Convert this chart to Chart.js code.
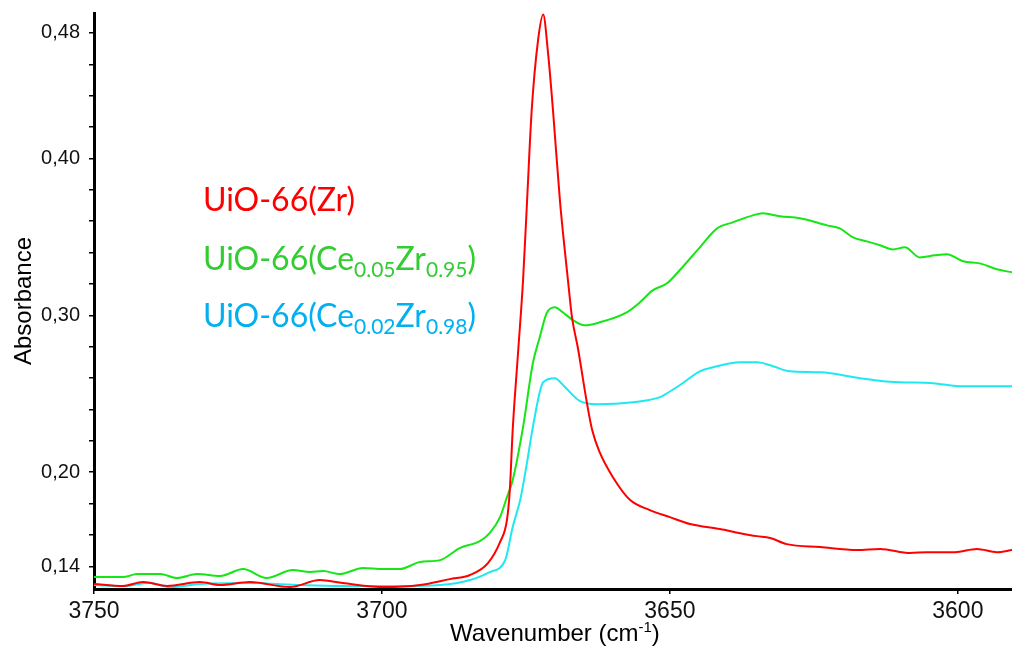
<!DOCTYPE html>
<html>
<head>
<meta charset="utf-8">
<script src="https://cdn.jsdelivr.net/npm/chart.js@4.4.1/dist/chart.umd.min.js"></script>
<style>
    html, body { margin: 0; padding: 0; background: #fff; }
    #wrap { width: 1012px; height: 652px; }
</style>
</head>
<body>
<div id="wrap"><canvas id="chart" width="1012" height="652"></canvas></div>
<script>
// Wavenumber (cm-1) and absorbance
const redWn = [3750.0, 3745.0, 3741.5, 3737.3, 3731.6, 3728.1, 3722.9, 3716.0, 3710.8, 3706.8, 3699.5, 3693.4, 3688.2, 3684.7, 3681.6, 3679.5, 3678.3, 3677.8, 3677.3, 3676.4, 3675.5, 3674.8, 3674.0, 3672.9, 3672.0, 3671.2, 3670.3, 3669.1, 3667.7, 3667.0, 3666.0, 3664.4, 3663.5, 3662.2, 3659.9, 3656.9, 3653.5, 3650.0, 3646.5, 3641.3, 3637.8, 3634.9, 3632.6, 3629.7, 3623.9, 3617.5, 3613.5, 3608.3, 3605.4, 3600.5, 3596.7, 3593.2, 3590.6];
const redAbs = [0.1287, 0.1274, 0.1299, 0.1274, 0.1299, 0.1280, 0.1299, 0.1267, 0.1312, 0.1293, 0.1267, 0.1280, 0.1318, 0.1344, 0.1420, 0.1554, 0.1694, 0.1885, 0.2268, 0.2745, 0.3223, 0.3732, 0.4306, 0.4752, 0.4917, 0.4687, 0.4306, 0.3732, 0.3223, 0.2987, 0.2796, 0.2439, 0.2268, 0.2127, 0.1968, 0.1822, 0.1758, 0.1713, 0.1669, 0.1637, 0.1611, 0.1592, 0.1580, 0.1541, 0.1522, 0.1503, 0.1510, 0.1484, 0.1490, 0.1490, 0.1510, 0.1490, 0.1503];

const greenWn = [3750.0, 3745.0, 3742.5, 3738.5, 3735.6, 3732.1, 3728.1, 3724.1, 3720.0, 3715.5, 3712.5, 3710.2, 3707.3, 3703.3, 3699.8, 3696.9, 3693.4, 3689.9, 3686.5, 3683.0, 3681.3, 3679.5, 3678.3, 3677.3, 3675.5, 3673.8, 3672.6, 3671.4, 3670.0, 3668.6, 3666.8, 3664.8, 3662.2, 3657.5, 3655.2, 3653.0, 3650.5, 3648.3, 3644.8, 3641.8, 3639.1, 3635.6, 3633.9, 3630.9, 3627.4, 3622.7, 3620.5, 3618.2, 3615.8, 3613.5, 3611.3, 3609.2, 3606.6, 3604.0, 3601.9, 3599.1, 3596.2, 3593.2, 3590.6];
const greenAbs = [0.1331, 0.1331, 0.1350, 0.1350, 0.1325, 0.1350, 0.1338, 0.1382, 0.1325, 0.1376, 0.1363, 0.1369, 0.1350, 0.1389, 0.1382, 0.1382, 0.1427, 0.1439, 0.1516, 0.1560, 0.1611, 0.1713, 0.1841, 0.1949, 0.2287, 0.2694, 0.2860, 0.3013, 0.3051, 0.3019, 0.2968, 0.2936, 0.2955, 0.3019, 0.3083, 0.3159, 0.3204, 0.3287, 0.3433, 0.3554, 0.3592, 0.3637, 0.3650, 0.3631, 0.3618, 0.3573, 0.3554, 0.3497, 0.3471, 0.3446, 0.3420, 0.3433, 0.3369, 0.3382, 0.3389, 0.3344, 0.3331, 0.3293, 0.3274];

const cyanWn = [3750.0, 3745.0, 3740.3, 3736.8, 3731.6, 3722.9, 3714.2, 3707.3, 3696.9, 3689.9, 3684.7, 3681.3, 3678.6, 3677.3, 3676.0, 3674.8, 3673.8, 3672.0, 3670.0, 3668.2, 3665.6, 3662.7, 3656.4, 3651.7, 3650.5, 3648.3, 3644.8, 3642.5, 3637.8, 3634.9, 3632.1, 3629.2, 3623.9, 3617.0, 3613.0, 3610.1, 3604.3, 3599.7, 3590.6];
const cyanAbs = [0.1280, 0.1274, 0.1293, 0.1267, 0.1287, 0.1293, 0.1280, 0.1274, 0.1274, 0.1280, 0.1312, 0.1363, 0.1439, 0.1650, 0.1822, 0.2064, 0.2287, 0.2573, 0.2599, 0.2541, 0.2452, 0.2433, 0.2446, 0.2478, 0.2503, 0.2554, 0.2643, 0.2669, 0.2700, 0.2700, 0.2675, 0.2643, 0.2637, 0.2599, 0.2580, 0.2573, 0.2567, 0.2548, 0.2548];

const xTicks = [3750, 3700, 3650, 3600];
const yTicks = [14, 16, 18, 20, 22, 24, 26, 28, 30, 32, 34, 36, 38, 40, 42, 44, 46, 48]; // hundredths
const yLabelled = [14, 20, 30, 40, 48];

const axisFont = 'Liberation Sans, Arial, sans-serif';
const legendFont = 'Lato, Noto Sans, sans-serif';

function toPoints(wn, abs) {
    return wn.map((w, i) => ({ x: w, y: abs[i] }));
}

// draw a line of text made of runs, some of them subscript / superscript
function drawRuns(ctx, x, y, runs, size, color, family) {
    ctx.fillStyle = color;
    ctx.textBaseline = 'alphabetic';
    ctx.textAlign = 'left';
    runs.forEach(r => {
        let s = size, dy = 0;
        if (r.sub) { s = Math.round(size * 0.66); dy = size * 0.22; }
        if (r.sup) { s = Math.round(size * 0.62); dy = -size * 0.36; }
        ctx.font = s + 'px ' + family;
        ctx.fillText(r.t, x, y + dy);
        x += ctx.measureText(r.t).width;
    });
}

const textPlugin = {
    id: 'textPlugin',
    afterDraw(chart) {
        const ctx = chart.ctx;
        ctx.save();
        drawRuns(ctx, 203, 211, [{ t: 'UiO-66(Zr)' }], 32, '#ff0000', legendFont);
        drawRuns(ctx, 203, 270, [{ t: 'UiO-66(Ce' }, { t: '0.05', sub: true }, { t: 'Zr' }, { t: '0.95', sub: true }, { t: ')' }], 32, '#33cc33', legendFont);
        drawRuns(ctx, 203, 327, [{ t: 'UiO-66(Ce' }, { t: '0.02', sub: true }, { t: 'Zr' }, { t: '0.98', sub: true }, { t: ')' }], 32, '#00b0f0', legendFont);
        drawRuns(ctx, 450, 641, [{ t: 'Wavenumber (cm' }, { t: '-1', sup: true }, { t: ')' }], 24, '#000', axisFont);
        ctx.restore();
    }
};

const ctx = document.getElementById('chart').getContext('2d');
new Chart(ctx, {
    type: 'line',
    data: {
        datasets: [
            { label: 'UiO-66(Zr)', data: toPoints(redWn, redAbs), borderColor: '#ff0000' },
            { label: 'UiO-66(Ce0.05Zr0.95)', data: toPoints(greenWn, greenAbs), borderColor: '#16e616' },
            { label: 'UiO-66(Ce0.02Zr0.98)', data: toPoints(cyanWn, cyanAbs), borderColor: '#1ee8f0' }
        ].map(d => Object.assign(d, {
            borderWidth: 2,
            pointRadius: 0,
            fill: false,
            cubicInterpolationMode: 'monotone',
            borderJoinStyle: 'round'
        }))
    },
    options: {
        responsive: false,
        animation: false,
        layout: { padding: { top: 13, right: 0, bottom: 0, left: 0 } },
        plugins: {
            legend: { display: false },
            tooltip: { enabled: false }
        },
        scales: {
            x: {
                type: 'linear',
                reverse: true,
                min: 3590.6,
                max: 3750,
                afterBuildTicks: s => { s.ticks = xTicks.map(v => ({ value: v })); },
                afterFit: s => { s.height = 63; s.paddingLeft = 0; s.paddingRight = 0; },
                border: { display: true, color: '#000', width: 3 },
                grid: { drawOnChartArea: false, drawTicks: true, tickLength: 5, color: '#000', lineWidth: 1.5 },
                ticks: {
                    autoSkip: false,
                    maxRotation: 0,
                    padding: 4,
                    color: '#111',
                    font: { family: axisFont, size: 23 },
                    callback: v => String(v)
                }
            },
            y: {
                type: 'linear',
                min: 0.1255,
                max: 0.4927,
                afterBuildTicks: s => { s.ticks = yTicks.map(v => ({ value: v / 100 })); },
                afterFit: s => { s.width = 94; s.paddingTop = 0; s.paddingBottom = 0; },
                border: { display: true, color: '#000', width: 3 },
                grid: { drawOnChartArea: false, drawTicks: true, tickLength: 5, color: '#000', lineWidth: 1.5 },
                title: {
                    display: true,
                    text: 'Absorbance',
                    color: '#000',
                    font: { family: axisFont, size: 24 },
                    padding: { top: 10, bottom: 0 }
                },
                ticks: {
                    autoSkip: false,
                    padding: 9,
                    color: '#111',
                    font: { family: axisFont, size: 20 },
                    callback: v => {
                        const h = Math.round(v * 100);
                        return yLabelled.includes(h) ? (h / 100).toFixed(2).replace('.', ',') : '';
                    }
                }
            }
        }
    },
    plugins: [textPlugin]
});
</script>
</body>
</html>
